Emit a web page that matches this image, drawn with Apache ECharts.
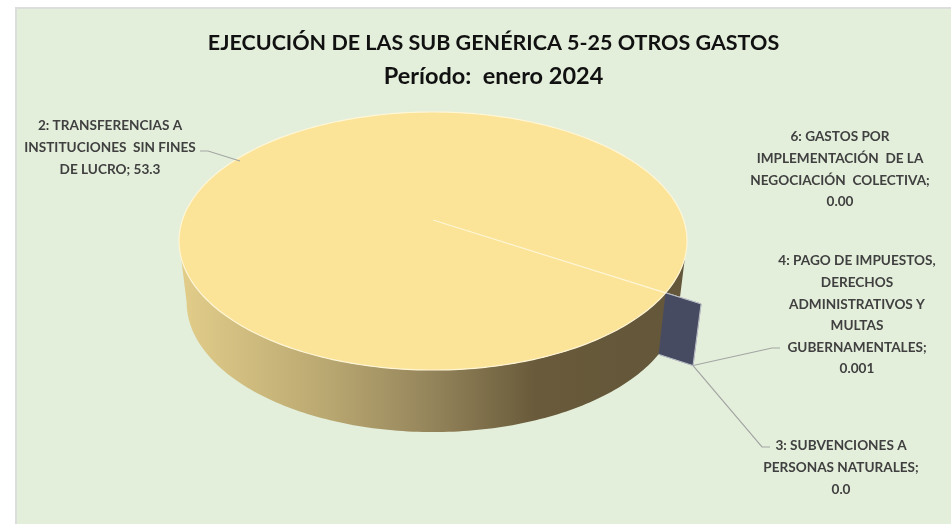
<!DOCTYPE html>
<html>
<head>
<meta charset="utf-8">
<title>Ejecución sub genérica 5-25</title>
<style>
  html, body { margin: 0; padding: 0; background: #fff; }
  #main { width: 951px; height: 524px; }
</style>
<script src="https://cdn.jsdelivr.net/npm/echarts@6/dist/echarts.min.js"></script>
</head>
<body>
<div id="main"></div>
<script>
// datos
const categories = ['2: TRANSFERENCIAS A INSTITUCIONES SIN FINES DE LUCRO', '3: SUBVENCIONES A PERSONAS NATURALES', '4: PAGO DE IMPUESTOS, DERECHOS ADMINISTRATIVOS Y MULTAS GUBERNAMENTALES', '6: GASTOS POR IMPLEMENTACIÓN DE LA NEGOCIACIÓN COLECTIVA'];
const values = [53.3, 0.0, 0.001, 0.0];
const labelLines = [
  ['2: TRANSFERENCIAS A', 'INSTITUCIONES  SIN FINES', 'DE LUCRO; 53.3'],
  ['3: SUBVENCIONES A', 'PERSONAS NATURALES;', '0.0'],
  ['4: PAGO DE IMPUESTOS,', 'DERECHOS', 'ADMINISTRATIVOS Y', 'MULTAS', 'GUBERNAMENTALES;', '0.001'],
  ['6: GASTOS POR', 'IMPLEMENTACIÓN  DE LA', 'NEGOCIACIÓN  COLECTIVA;', '0.00']
];
const titleText = 'EJECUCIÓN DE LAS SUB GENÉRICA 5-25 OTROS GASTOS';
const subtitleText = 'Período:  enero 2024';

// geometria del disco en perspectiva
const cx = 433, cy = 220, rx = 250.6, ry = 125.6, persp = 0.1628;
const dropY = 61, bottomScaleX = 0.97, bottomScaleY = 1.007;
const startDeg = 32, explode = 0.1375;
const tangentDeg = Math.asin(persp) * 180 / Math.PI;

const sliceColors = ['#fbe398', '#474b62', '#474b62', '#474b62'];
const labelBoxes = [
  { x: 110, y: 126 },
  { x: 841, y: 446 },
  { x: 857, y: 261 },
  { x: 840, y: 137 }
];
const leaderBends = [
  [[200, 151], [208, 151]],
  [[770, 447], [762, 447]],
  [[780, 348], [772, 348]],
  null
];
const leaderAnchor = [[240, 161], null, null, null];

const wallGradient = {
  type: 'linear', global: true, x: 180, y: 0, x2: 690, y2: 0,
  colorStops: [
    { offset: 0, color: '#e2cd8a' },
    { offset: 0.3, color: '#b8a670' },
    { offset: 0.5, color: '#93835a' },
    { offset: 0.7, color: '#685a3a' },
    { offset: 1, color: '#63563a' }
  ]
};

function discPoint(deg, r, bottom) {
  const a = deg * Math.PI / 180;
  const w = 1 - persp * r * Math.sin(a);
  const x = rx * r * Math.cos(a) / w;
  const y = ry * r * Math.sin(a) / w;
  if (bottom) return [cx + x * bottomScaleX, cy + dropY + y * bottomScaleY];
  return [cx + x, cy + y];
}

function wallPoints(from, to) {
  const top = [], low = [];
  for (let d = from; d <= to; d += 1) {
    top.push(discPoint(d, 1, false));
    low.unshift(discPoint(d, 1, true));
  }
  top.push(discPoint(to, 1, false));
  low.unshift(discPoint(to, 1, true));
  return top.concat(low);
}

const total = values.reduce((a, b) => a + b, 0);
const starts = [];
values.reduce((acc, v, i) => { starts[i] = acc; return acc + v; }, 0);

function renderSlice(params, api) {
  const i = params.dataIndex;
  const from = startDeg + starts[i] / total * 360;
  const to = from + api.value(0) / total * 360;
  const children = [];

  if (i === 0) {
    // pared trasera, la cara azul, pared delantera, tapa
    children.push({ type: 'polygon', z2: 1, shape: { points: wallPoints(tangentDeg, startDeg) }, style: { fill: wallGradient } });
    children.push({ type: 'polygon', z2: 3, shape: { points: wallPoints(startDeg, 180 - tangentDeg) }, style: { fill: wallGradient } });
    const top = [[cx, cy]];
    for (let d = from; d < to; d += 1) top.push(discPoint(d, 1, false));
    top.push(discPoint(to, 1, false));
    children.push({ type: 'polygon', z2: 4, shape: { points: top }, style: { fill: sliceColors[i], stroke: '#fff6d6', lineWidth: 1.2 } });
  } else {
    // porciones casi nulas y separadas: solo se ve la cara radial
    const outer = 1 + explode;
    children.push({
      type: 'polygon', z2: 2,
      shape: { points: [discPoint(from, explode, false), discPoint(from, outer, false), discPoint(from, outer, true), discPoint(from, explode, true)] },
      style: { fill: sliceColors[i], stroke: '#bcc0c6', lineWidth: 1 }
    });
  }

  if (leaderBends[i]) {
    const end = leaderAnchor[i] || discPoint(from, 1 + explode, true);
    children.push({
      type: 'polyline', z2: 5,
      shape: { points: leaderBends[i].concat([end]) },
      style: { fill: 'none', stroke: '#a3a5a3', lineWidth: 1.2 }
    });
  }

  labelLines[i].forEach((line, n) => {
    children.push({
      type: 'text', z2: 6,
      style: {
        text: line, x: labelBoxes[i].x, y: labelBoxes[i].y + n * 21.6,
        textAlign: 'center', textVerticalAlign: 'middle',
        font: 'bold 13.6px Lato', fill: '#404040'
      }
    });
  });

  return { type: 'group', children: children };
}

let myChart = echarts.init(document.getElementById('main'), null, { renderer: 'canvas' });
myChart.setOption({
  animation: false,
  backgroundColor: '#fff',
  title: [
    { text: titleText, left: 488.5, top: 27, textAlign: 'center', textStyle: { fontFamily: 'Lato', fontWeight: 'bold', fontSize: 21.5, color: '#111' } },
    { text: subtitleText, left: 488.5, top: 59, textAlign: 'center', textStyle: { fontFamily: 'Lato', fontWeight: 'bold', fontSize: 23.5, color: '#111' } }
  ],
  graphic: [
    { type: 'rect', z: -1, shape: { x: 16, y: 8, width: 940, height: 520 }, style: { fill: '#e3efdb', stroke: '#dcdedb', lineWidth: 2 } }
  ],
  series: [
    {
      type: 'custom',
      coordinateSystem: 'none',
      name: 'Ejecución',
      data: categories.map((c, i) => ({ name: c, value: [values[i]] })),
      renderItem: renderSlice
    }
  ]
});
window.onresize = function () {
  myChart.resize();
};
</script>
</body>
</html>
